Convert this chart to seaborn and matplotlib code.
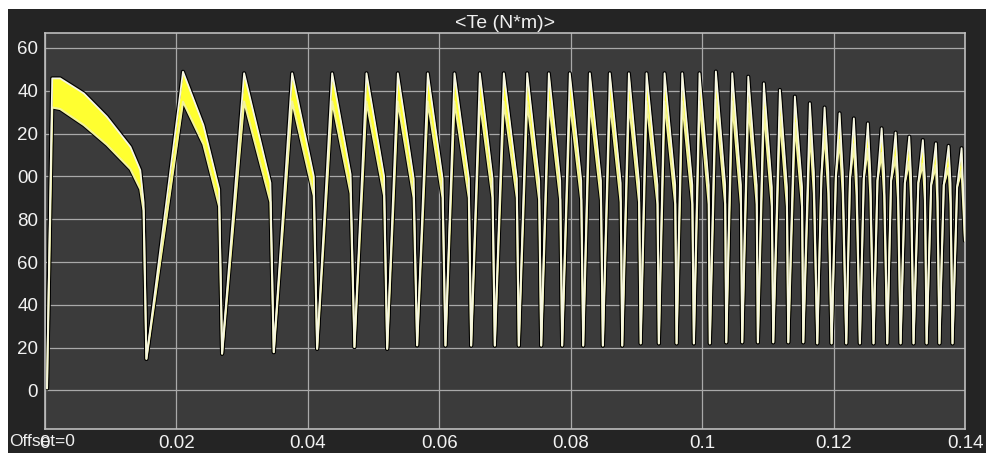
import numpy as np
import pandas as pd
import matplotlib
matplotlib.use("Agg")
import matplotlib.pyplot as plt
from matplotlib.patches import Rectangle
import seaborn as sns

# ---------------------------------------------------------------
# data (time in s, torque in N*m)
# ---------------------------------------------------------------
start_t, start_v = 0.0003, 1.0

# first (long) decay, band upper / lower edge
first_t = [0.0011, 0.0023, 0.0059, 0.0094, 0.0130, 0.0145]
first_up = [145.8, 145.8, 138.8, 127.9, 113.8, 102.9]
first_lo = [132.2, 131.5, 124.0, 114.8, 103.4, 94.0]
first_knee_t, first_knee_v = 0.0150, 88.0
first_trough_t, first_trough_v = 0.01543, 14.8

# following cycles
peak_t = [0.0210, 0.0303, 0.03761, 0.04370, 0.04892, 0.05369, 0.05825, 0.06231,
          0.06617, 0.06982, 0.07338, 0.07667, 0.07986, 0.08291, 0.08595, 0.08885,
          0.09154, 0.09428, 0.09697, 0.09960, 0.10209, 0.10458, 0.10702, 0.10939,
          0.11183, 0.11411, 0.11639, 0.11863, 0.12091, 0.12309, 0.12522, 0.12731,
          0.12944, 0.13152, 0.13359, 0.13557, 0.13750, 0.13948]
peak_v = [148.9, 148.2, 148.2, 148.2, 148.2, 148.2, 148.2, 148.2, 148.2, 148.2,
          148.2, 148.2, 148.2, 148.2, 148.2, 148.2, 148.2, 148.2, 148.2, 148.2,
          149.0, 148.2, 146.6, 143.5, 140.4, 137.3, 134.2, 132.2, 129.5, 127.1,
          124.8, 122.5, 120.5, 118.6, 117.0, 115.5, 114.3, 113.2]
peak_lo = [134.9, 135, 135, 135, 135, 135, 135, 135, 135, 135,
           135, 135, 135, 135, 135, 135, 135, 135, 135, 135,
           136, 135, 134, 131, 128, 125, 122, 120, 117, 115,
           113, 111, 109, 107, 106, 105, 104, 103]

# second cycle has a visibly curved band
mid2_t, mid2_up, mid2_lo = 0.0241, 124.0, 115.0

knee_t = [0.0265, 0.0343, 0.0409, 0.0465, 0.0516, 0.0561, 0.0605, 0.0645, 0.0681,
          0.0718, 0.0752, 0.0784, 0.0816, 0.0846, 0.0876, 0.0904, 0.0932, 0.0959,
          0.0985, 0.1010, 0.1035, 0.1059, 0.1083, 0.1106, 0.1129, 0.1152, 0.1170,
          0.1192, 0.1214, 0.1235, 0.1256, 0.1277, 0.1298, 0.1318, 0.1339, 0.1358,
          0.1378]
knee_v = [94, 97, 100, 101, 100, 99, 99, 99, 99, 99, 98, 98, 98, 98, 97, 97, 96, 96,
          96, 96, 96, 96, 96, 95, 95, 95, 102, 102, 102, 101, 101, 101, 100, 99, 99,
          98, 97]
knee_lo = [86, 88, 91, 92, 91, 90, 90, 90, 90, 90, 89, 89, 89, 89, 88, 88, 87, 87,
           87, 87, 87, 87, 87, 86, 86, 86, 92, 92, 92, 91, 91, 91, 90, 89, 89,
           88, 87]
trough_t = [0.02695, 0.03481, 0.04141, 0.04709, 0.05207, 0.05663, 0.06094, 0.06485,
            0.06845, 0.0721, 0.07551, 0.0787, 0.0819, 0.08489, 0.08784, 0.09065,
            0.09341, 0.09611, 0.09874, 0.10117, 0.10367, 0.1061, 0.10848, 0.11082,
            0.11311, 0.11539, 0.11752, 0.1197, 0.12193, 0.124, 0.12608, 0.12817,
            0.1302, 0.13217, 0.13416, 0.13611, 0.1381]
trough_v = [17.2, 17.9, 19.5, 20.3, 19.5, 21.1, 21, 21, 21, 21, 21, 21, 21, 21, 21,
            22, 22, 22, 22, 22, 22.5, 22.5, 22.5, 22.5, 22.5, 22.5, 22, 22, 22, 22,
            22, 22, 22, 22, 22, 22, 22]

# kink on the rising edge of the late cycles (from cycle index 27 on)
kink_from = 27
kink_t = [0.11815, 0.12035, 0.1225, 0.1246, 0.12668, 0.12875, 0.13085, 0.1329,
          0.13485, 0.13677, 0.1388]
kink_v = [100, 100, 99, 99, 98, 98, 97, 97, 96, 96, 95]

end_t, end_v = 0.14, 70.0

xticks = [0, 0.02, 0.04, 0.06, 0.08, 0.1, 0.12, 0.14]
xtick_labels = ["0", "0.02", "0.04", "0.06", "0.08", "0.1", "0.12", "0.14"]
yticks = [0, 20, 40, 60, 80, 100, 120, 140, 160]
ytick_labels = ["0", "20", "40", "60", "80", "00", "20", "40", "60"]  # clipped in the screenshot

# ---------------------------------------------------------------
# assemble the envelope path
# ---------------------------------------------------------------
t, up, lo = [start_t], [start_v], [start_v]
t += first_t
up += first_up
lo += first_lo
t += [first_knee_t, first_trough_t]
up += [first_knee_v, first_trough_v]
lo += [first_knee_v - 4, first_trough_v]

for i in range(len(peak_t)):
    k = i - kink_from
    if 0 <= k < len(kink_t):
        t.append(kink_t[k]); up.append(kink_v[k]); lo.append(kink_v[k])
    t.append(peak_t[i]); up.append(peak_v[i]); lo.append(peak_lo[i])
    if i == 0:
        t.append(mid2_t); up.append(mid2_up); lo.append(mid2_lo)
    if i < len(knee_t):
        t += [knee_t[i], trough_t[i]]
        up += [knee_v[i], trough_v[i]]
        lo += [knee_lo[i], trough_v[i]]
t.append(end_t); up.append(end_v); lo.append(end_v)

df = pd.DataFrame({"time": t, "upper": up, "lower": lo})

# ---------------------------------------------------------------
# plot
# ---------------------------------------------------------------
sns.set_theme(style="dark")
plt.rcParams["font.family"] = ["Liberation Sans", "DejaVu Sans"]

W, H = 986, 453
fig = plt.figure(figsize=(W / 100, H / 100), dpi=100, facecolor="white")
fig.patches.append(Rectangle((8 / W, 0), 1, 1 - 9 / H, transform=fig.transFigure,
                             facecolor="#242424", edgecolor="none", zorder=-10))
ax = fig.add_axes([45 / W, 24 / H, 920 / W, 396 / H])
ax.set_facecolor("#3b3b3b")

for col in ["upper", "lower"]:
    sns.lineplot(data=df, x="time", y=col, ax=ax, sort=False, estimator=None,
                 color="black", linewidth=3.0, zorder=2)
ax.fill_between(df["time"], df["lower"], df["upper"], color="#ffff30",
                linewidth=0, zorder=3)
sns.lineplot(data=df, x="time", y="lower", ax=ax, sort=False, estimator=None,
             color="#f3f39a", linewidth=1.5, zorder=4)
sns.lineplot(data=df, x="time", y="upper", ax=ax, sort=False, estimator=None,
             color="#f6f6e2", linewidth=1.3, zorder=5)

ax.set_xlim(0, 0.14)
ax.set_ylim(-18, 167)
ax.set_xticks(xticks)
ax.set_xticklabels(xtick_labels)
ax.set_yticks(yticks)
ax.set_yticklabels(ytick_labels)
ax.grid(True, color="#a9a9a9", linewidth=0.9)
ax.set_axisbelow(True)
ax.tick_params(length=0, labelsize=13.5, labelcolor="#f2f2f2")
ax.tick_params(axis="y", pad=5)
ax.tick_params(axis="x", pad=4)
ax.set_xlabel("")
ax.set_ylabel("")
for s in ax.spines.values():
    s.set_color("#bdbdbd")
    s.set_linewidth(1.2)

fig.text(505 / W, 1 - 23 / H, "<Te (N*m)>", ha="center", va="center",
         color="#efefef", fontsize=14)
fig.text(9 / W, 1 - 442 / H, "Offset=0", ha="left", va="center",
         color="#efefef", fontsize=12.5)

fig.savefig("out.png", dpi=100, facecolor=fig.get_facecolor())
